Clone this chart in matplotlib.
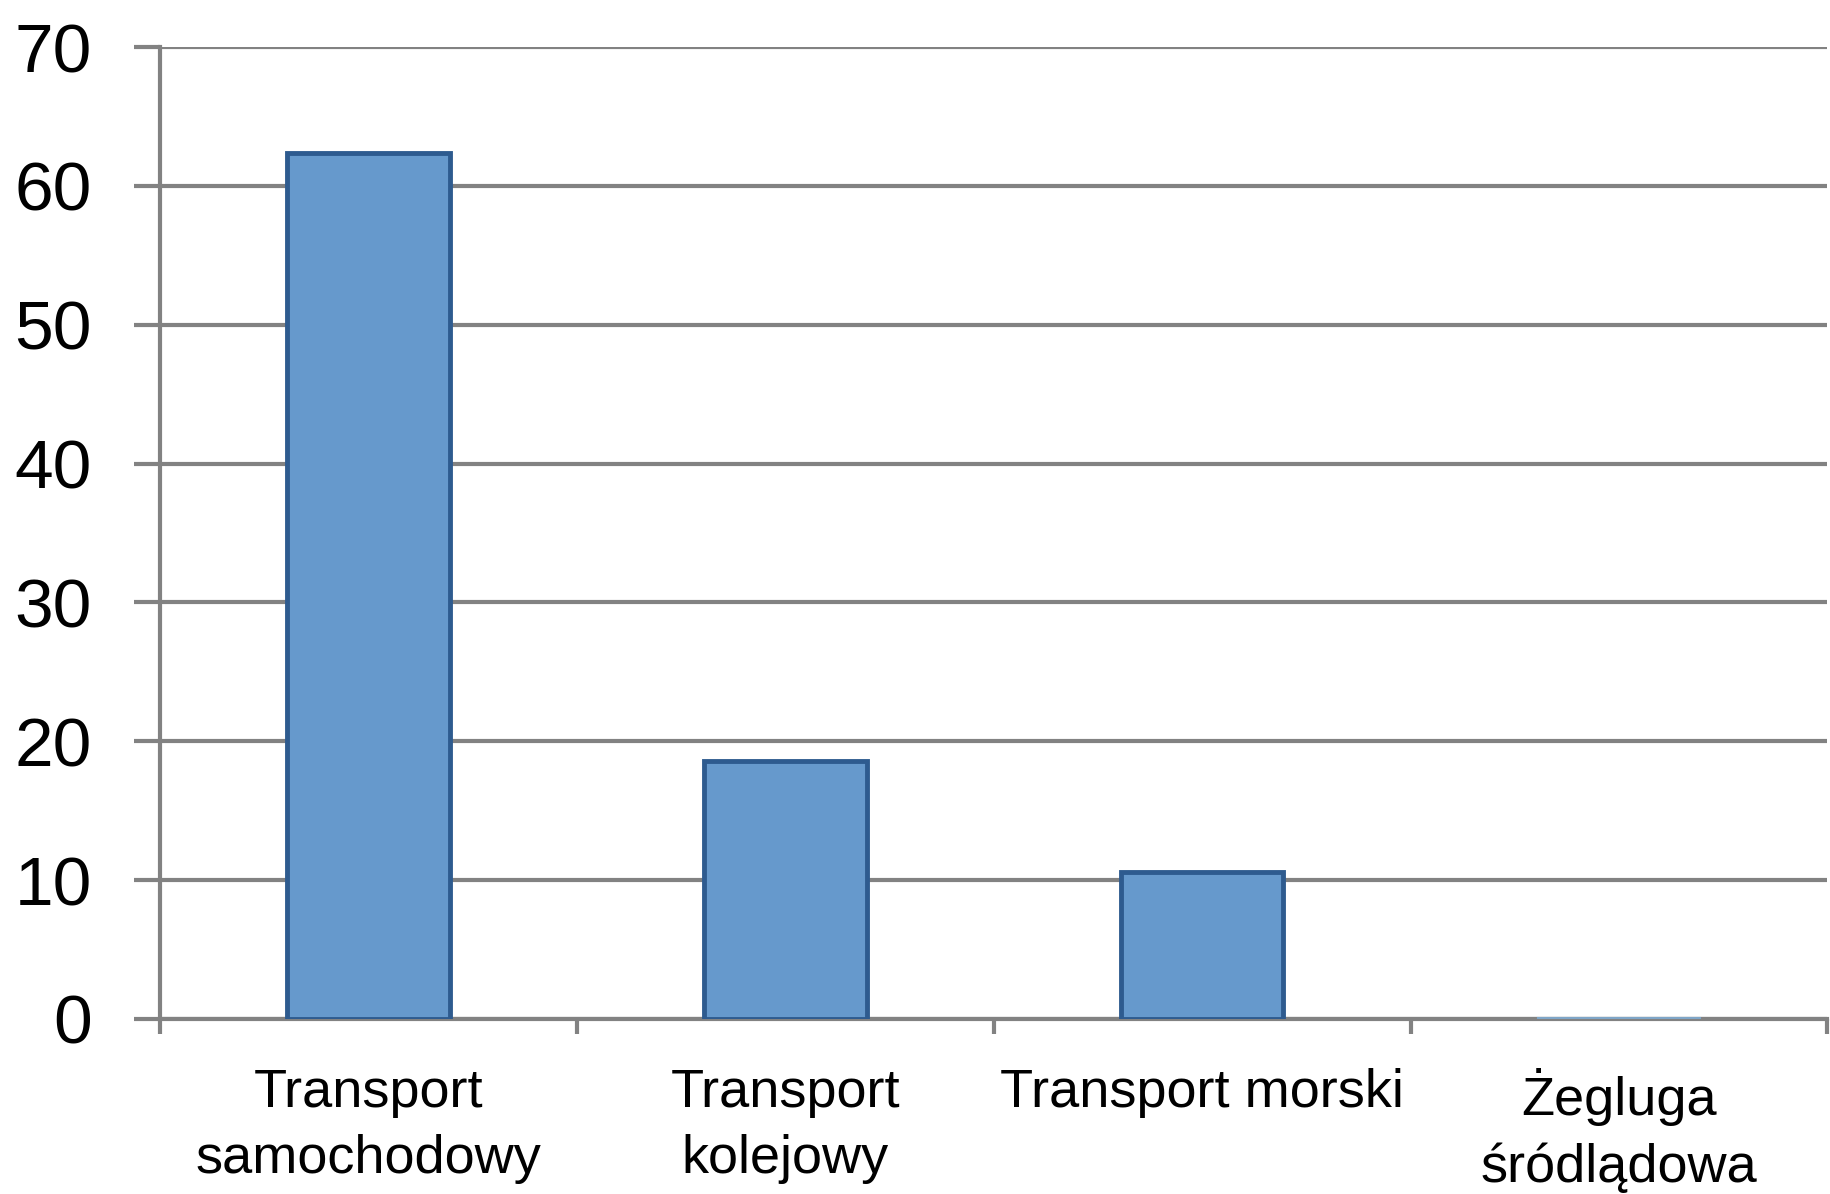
import matplotlib
matplotlib.use("Agg")
import matplotlib.pyplot as plt
import numpy as np

categories = ["Transport\nsamochodowy", "Transport\nkolejowy", "Transport morski", "Żegluga\nśródlądowa"]
values = [62.4, 18.6, 10.6, 0.1]
yticks = [0, 10, 20, 30, 40, 50, 60, 70]

plt.rcParams['font.family'] = ['Liberation Sans', 'DejaVu Sans']

fig = plt.figure(figsize=(18.31, 11.94), dpi=100)
ax = fig.add_axes([0.0874, 0.1466, 0.9106, 0.814])

x = np.arange(len(categories))
bars = ax.bar(x, values, width=0.39, color='#6699CC', edgecolor='#2E5B8F', linewidth=3.5, zorder=3)
bars[-1].set_edgecolor('#7FA6C8')
bars[-1].set_linewidth(1.5)

ax.set_xlim(-0.5, len(categories) - 0.5)
ax.set_ylim(0, 70)
ax.set_yticks(yticks)
ax.set_yticklabels([str(v) for v in yticks])
ax.yaxis.grid(True, color='#828282', linewidth=3, zorder=0)
ax.set_axisbelow(True)

ax.set_xticks(x)
ax.set_xticklabels(categories, linespacing=1.42)
ax.set_xticks(np.arange(len(categories) + 1) - 0.5, minor=True)

for s in ['top', 'right']:
    ax.spines[s].set_visible(False)
for s in ['left', 'bottom']:
    ax.spines[s].set_color('#828282')
    ax.spines[s].set_linewidth(3)

ax.tick_params(axis='y', length=19, width=3, color='#828282', pad=30, labelsize=50, labelcolor='black')
ax.tick_params(axis='x', which='major', length=0, pad=35, labelsize=39, labelcolor='black')
ax.tick_params(axis='x', which='minor', length=11, width=3, color='#828282')

fig.savefig("out.png", dpi=100, facecolor='white')
